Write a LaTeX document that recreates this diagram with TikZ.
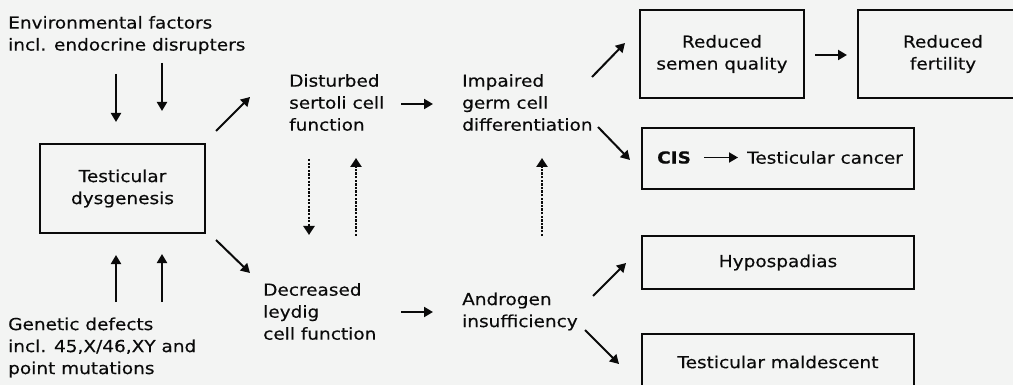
\documentclass[tikz,border=0pt]{standalone}
\usepackage{fontspec}
\setmainfont{DejaVu Sans}[FakeStretch=1.12,FakeBold=0.3]
\usetikzlibrary{arrows.meta}
\definecolor{bgc}{RGB}{243,244,243}
\definecolor{ink}{RGB}{10,10,10}
\begin{document}
\begin{tikzpicture}[x=1pt,y=-1pt,
  every node/.style={font=\fontsize{16.5}{22}\selectfont, text=ink, inner sep=0pt},
  txt/.style={anchor=west, align=left},
  box/.style={draw=ink, line width=1.6pt, align=center},
  arr/.style={draw=ink, line width=2pt, -{Triangle[length=9pt,width=10pt]}},
  dotarr/.style={draw=ink, line width=2.6pt, dash pattern=on 2.3pt off 1.3pt, -{Triangle[length=9pt,width=11pt]}}]
\fill[bgc] (0,0) rectangle (1013,385);
\useasboundingbox (0,0) rectangle (1013,385);
\clip (0,0) rectangle (1013,385);
% text nodes
\node[txt] (env) at (8,35) {Environmental factors\\incl. endocrine disrupters};
\node[txt] (gen) at (8,347.5) {Genetic defects\\incl. 45,X/46,XY and\\point mutations};
\node[box, minimum width=165pt, minimum height=89pt] (dys) at (122.5,188.5) {Testicular\\dysgenesis};
\node[txt] (dist) at (289,102.5) {Disturbed\\sertoli cell\\function};
\node[txt] (decr) at (263,311.5) {Decreased\\leydig\\cell function};
\node[txt] (imp) at (462,102.5) {Impaired\\germ cell\\differentiation};
\node[txt] (andr) at (462,311.5) {Androgen\\insufficiency};
\node[box, minimum width=164pt, minimum height=88pt] (semen) at (722,54) {Reduced\\semen quality};
\node[box, minimum width=170pt, minimum height=88pt] (fert) at (943,54) {Reduced\\fertility};
\node[box, minimum width=272pt, minimum height=61pt] (cisbox) at (778,158.5) {};
\node[anchor=west, font=\fontsize{16.5}{22}\selectfont\bfseries] (cis) at (657,157.5) {CIS};
\node[anchor=west] (cancer) at (747,157.5) {Testicular cancer};
\node[box, minimum width=272pt, minimum height=53pt] (hypo) at (778,262.5) {Hypospadias};
\node[box, minimum width=272pt, minimum height=56pt] (mald) at (778,362) {Testicular maldescent};
% free arrow end points
\coordinate (e1s) at (116,74);  \coordinate (e1t) at (116,122);
\coordinate (e2s) at (162,63);  \coordinate (e2t) at (162,111);
\coordinate (g1s) at (116,302); \coordinate (g1t) at (116,255);
\coordinate (g2s) at (162,302); \coordinate (g2t) at (162,254);
\coordinate (d1s) at (216,131); \coordinate (d1t) at (250,97);
\coordinate (d2s) at (216,240); \coordinate (d2t) at (250,273);
\coordinate (h1s) at (401,104); \coordinate (h1t) at (433,104);
\coordinate (h2s) at (401,312); \coordinate (h2t) at (433,312);
\coordinate (v1s) at (309,159); \coordinate (v1t) at (309,235);
\coordinate (v2s) at (356,236); \coordinate (v2t) at (356,158);
\coordinate (v3s) at (542,236); \coordinate (v3t) at (542,158);
\coordinate (i1s) at (592,77);  \coordinate (i1t) at (625,43);
\coordinate (i2s) at (598,127); \coordinate (i2t) at (630,160);
\coordinate (a1s) at (593,296); \coordinate (a1t) at (626,263);
\coordinate (a2s) at (585,330); \coordinate (a2t) at (619,364);
\coordinate (sfs) at (815,55);  \coordinate (sft) at (847,55);
% arrows
\foreach \p in {e1,e2,g1,g2,d1,d2,h1,h2,i1,i2,a1,a2,sf}
  \draw[arr] (\p s) -- (\p t);
\foreach \p in {v1,v2,v3}
  \draw[dotarr] (\p s) -- (\p t);
\draw[arr, line width=1.8pt] ([xshift=13pt]cis.east) -- ([xshift=-9pt]cancer.west);
\end{tikzpicture}
\end{document}
